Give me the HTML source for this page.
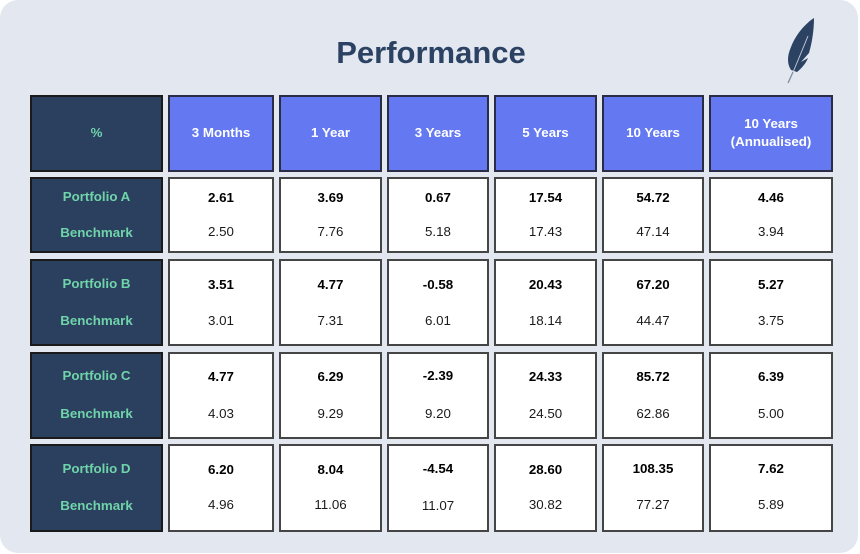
<!DOCTYPE html>
<html>
<head>
<meta charset="utf-8">
<style>
  html,body{margin:0;padding:0;background:#ffffff;}
  body{width:860px;height:554px;position:relative;overflow:hidden;font-family:"Liberation Sans",Arial,sans-serif;}
  .card{position:absolute;left:0;top:0;width:858px;height:553px;background:#e2e7f0;border-radius:18px;}
  .title{position:absolute;left:0;top:34px;width:862px;text-align:center;font-size:31px;font-weight:bold;color:#2c4263;line-height:38px;}
  .c{position:absolute;box-sizing:border-box;border:2px solid #404040;}
  .w{background:#ffffff;border-color:#454545;}
  .d{background:#2b3f5e;border-color:#1a1a1a;}
  .h{background:#6479f1;border-color:#2a2c45;}
  .t{position:absolute;text-align:center;font-size:13.33px;line-height:16px;white-space:nowrap;}
  .hb{color:#ffffff;font-weight:bold;}
  .lb{color:#6fd4aa;font-weight:bold;}
  .vb{color:#000;font-weight:bold;}
  .vr{color:#1a1a1a;}
</style>
</head>
<body>
<div class="card"></div>
<div class="title">Performance</div>

<svg style="position:absolute;left:0;top:0" width="860" height="554" viewBox="0 0 860 554">
  <path d="M814 18 C806 23 796 34 791 47 C787 56 787 64 791 70 L797 72 C802 68 806 63 808 58 L801 62 L809 53 C812 43 814 30 814 18 Z" fill="#2c4263"/>
  <path d="M808 36 L789 82" stroke="#c9d1de" stroke-width="0.9" fill="none"/>
  <path d="M793 72 L788 83" stroke="#7d8aa0" stroke-width="1.2" fill="none"/>
</svg>

<!-- Header row -->
<div class="c d" style="left:30px;top:95px;width:133px;height:77px"></div>
<div class="c h" style="left:168px;top:95px;width:106px;height:77px"></div>
<div class="c h" style="left:279px;top:95px;width:103px;height:77px"></div>
<div class="c h" style="left:387px;top:95px;width:102px;height:77px"></div>
<div class="c h" style="left:494px;top:95px;width:103px;height:77px"></div>
<div class="c h" style="left:602px;top:95px;width:102px;height:77px"></div>
<div class="c h" style="left:709px;top:95px;width:124px;height:77px"></div>

<div class="t lb" style="left:30px;width:133px;top:125px">%</div>
<div class="t hb" style="left:168px;width:106px;top:125px">3 Months</div>
<div class="t hb" style="left:279px;width:103px;top:125px">1 Year</div>
<div class="t hb" style="left:387px;width:102px;top:125px">3 Years</div>
<div class="t hb" style="left:494px;width:103px;top:125px">5 Years</div>
<div class="t hb" style="left:602px;width:102px;top:125px">10 Years</div>
<div class="t hb" style="left:709px;width:124px;top:116px">10 Years</div>
<div class="t hb" style="left:709px;width:124px;top:134px">(Annualised)</div>

<!-- Row A -->
<div class="c d" style="left:30px;top:177px;width:133px;height:76px"></div>
<div class="c w" style="left:168px;top:177px;width:106px;height:76px"></div>
<div class="c w" style="left:279px;top:177px;width:103px;height:76px"></div>
<div class="c w" style="left:387px;top:177px;width:102px;height:76px"></div>
<div class="c w" style="left:494px;top:177px;width:103px;height:76px"></div>
<div class="c w" style="left:602px;top:177px;width:102px;height:76px"></div>
<div class="c w" style="left:709px;top:177px;width:124px;height:76px"></div>
<div class="t lb" style="left:30px;width:133px;top:189px">Portfolio A</div>
<div class="t lb" style="left:30px;width:133px;top:225px">Benchmark</div>
<div class="t vb" style="left:168px;width:106px;top:190px">2.61</div>
<div class="t vb" style="left:279px;width:103px;top:190px">3.69</div>
<div class="t vb" style="left:387px;width:102px;top:190px">0.67</div>
<div class="t vb" style="left:494px;width:103px;top:190px">17.54</div>
<div class="t vb" style="left:602px;width:102px;top:190px">54.72</div>
<div class="t vb" style="left:709px;width:124px;top:190px">4.46</div>
<div class="t vr" style="left:168px;width:106px;top:224px">2.50</div>
<div class="t vr" style="left:279px;width:103px;top:224px">7.76</div>
<div class="t vr" style="left:387px;width:102px;top:224px">5.18</div>
<div class="t vr" style="left:494px;width:103px;top:224px">17.43</div>
<div class="t vr" style="left:602px;width:102px;top:224px">47.14</div>
<div class="t vr" style="left:709px;width:124px;top:224px">3.94</div>

<!-- Row B -->
<div class="c d" style="left:30px;top:259px;width:133px;height:87px"></div>
<div class="c w" style="left:168px;top:259px;width:106px;height:87px"></div>
<div class="c w" style="left:279px;top:259px;width:103px;height:87px"></div>
<div class="c w" style="left:387px;top:259px;width:102px;height:87px"></div>
<div class="c w" style="left:494px;top:259px;width:103px;height:87px"></div>
<div class="c w" style="left:602px;top:259px;width:102px;height:87px"></div>
<div class="c w" style="left:709px;top:259px;width:124px;height:87px"></div>
<div class="t lb" style="left:30px;width:133px;top:276px">Portfolio B</div>
<div class="t lb" style="left:30px;width:133px;top:313px">Benchmark</div>
<div class="t vb" style="left:168px;width:106px;top:277px">3.51</div>
<div class="t vb" style="left:279px;width:103px;top:277px">4.77</div>
<div class="t vb" style="left:387px;width:102px;top:277px">-0.58</div>
<div class="t vb" style="left:494px;width:103px;top:277px">20.43</div>
<div class="t vb" style="left:602px;width:102px;top:277px">67.20</div>
<div class="t vb" style="left:709px;width:124px;top:277px">5.27</div>
<div class="t vr" style="left:168px;width:106px;top:313px">3.01</div>
<div class="t vr" style="left:279px;width:103px;top:313px">7.31</div>
<div class="t vr" style="left:387px;width:102px;top:313px">6.01</div>
<div class="t vr" style="left:494px;width:103px;top:313px">18.14</div>
<div class="t vr" style="left:602px;width:102px;top:313px">44.47</div>
<div class="t vr" style="left:709px;width:124px;top:313px">3.75</div>

<!-- Row C -->
<div class="c d" style="left:30px;top:352px;width:133px;height:87px"></div>
<div class="c w" style="left:168px;top:352px;width:106px;height:87px"></div>
<div class="c w" style="left:279px;top:352px;width:103px;height:87px"></div>
<div class="c w" style="left:387px;top:352px;width:102px;height:87px"></div>
<div class="c w" style="left:494px;top:352px;width:103px;height:87px"></div>
<div class="c w" style="left:602px;top:352px;width:102px;height:87px"></div>
<div class="c w" style="left:709px;top:352px;width:124px;height:87px"></div>
<div class="t lb" style="left:30px;width:133px;top:368px">Portfolio C</div>
<div class="t lb" style="left:30px;width:133px;top:406px">Benchmark</div>
<div class="t vb" style="left:168px;width:106px;top:369px">4.77</div>
<div class="t vb" style="left:279px;width:103px;top:369px">6.29</div>
<div class="t vb" style="left:387px;width:102px;top:368px">-2.39</div>
<div class="t vb" style="left:494px;width:103px;top:369px">24.33</div>
<div class="t vb" style="left:602px;width:102px;top:369px">85.72</div>
<div class="t vb" style="left:709px;width:124px;top:369px">6.39</div>
<div class="t vr" style="left:168px;width:106px;top:406px">4.03</div>
<div class="t vr" style="left:279px;width:103px;top:406px">9.29</div>
<div class="t vr" style="left:387px;width:102px;top:406px">9.20</div>
<div class="t vr" style="left:494px;width:103px;top:406px">24.50</div>
<div class="t vr" style="left:602px;width:102px;top:406px">62.86</div>
<div class="t vr" style="left:709px;width:124px;top:406px">5.00</div>

<!-- Row D -->
<div class="c d" style="left:30px;top:444px;width:133px;height:88px"></div>
<div class="c w" style="left:168px;top:444px;width:106px;height:88px"></div>
<div class="c w" style="left:279px;top:444px;width:103px;height:88px"></div>
<div class="c w" style="left:387px;top:444px;width:102px;height:88px"></div>
<div class="c w" style="left:494px;top:444px;width:103px;height:88px"></div>
<div class="c w" style="left:602px;top:444px;width:102px;height:88px"></div>
<div class="c w" style="left:709px;top:444px;width:124px;height:88px"></div>
<div class="t lb" style="left:30px;width:133px;top:461px">Portfolio D</div>
<div class="t lb" style="left:30px;width:133px;top:498px">Benchmark</div>
<div class="t vb" style="left:168px;width:106px;top:462px">6.20</div>
<div class="t vb" style="left:279px;width:103px;top:462px">8.04</div>
<div class="t vb" style="left:387px;width:102px;top:461px">-4.54</div>
<div class="t vb" style="left:494px;width:103px;top:462px">28.60</div>
<div class="t vb" style="left:602px;width:102px;top:461px">108.35</div>
<div class="t vb" style="left:709px;width:124px;top:461px">7.62</div>
<div class="t vr" style="left:168px;width:106px;top:497px">4.96</div>
<div class="t vr" style="left:279px;width:103px;top:497px">11.06</div>
<div class="t vr" style="left:387px;width:102px;top:498px">11.07</div>
<div class="t vr" style="left:494px;width:103px;top:497px">30.82</div>
<div class="t vr" style="left:602px;width:102px;top:497px">77.27</div>
<div class="t vr" style="left:709px;width:124px;top:497px">5.89</div>

</body>
</html>
